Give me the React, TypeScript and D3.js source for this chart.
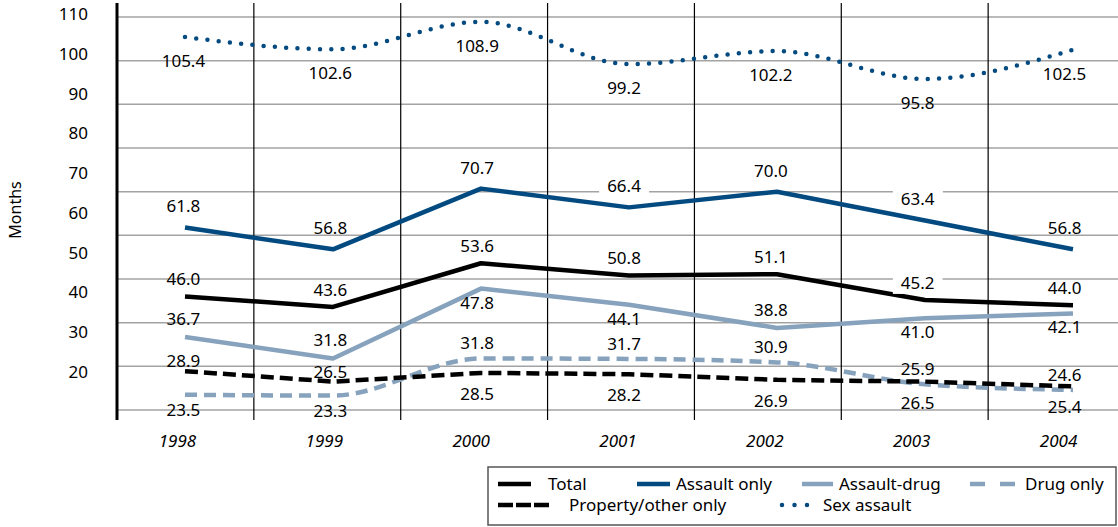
import React, { useEffect, useRef } from "react";
import * as d3 from "d3";

// values (months)
const years = ["1998", "1999", "2000", "2001", "2002", "2003", "2004"];
const totalValues = [46.0, 43.6, 53.6, 50.8, 51.1, 45.2, 44.0];
const assaultOnlyValues = [61.8, 56.8, 70.7, 66.4, 70.0, 63.4, 56.8];
const assaultDrugValues = [36.7, 31.8, 47.8, 44.1, 38.8, 41.0, 42.1];
const drugOnlyValues = [23.5, 23.3, 31.8, 31.7, 30.9, 25.9, 24.6];
const propertyValues = [28.9, 26.5, 28.5, 28.2, 26.9, 26.5, 25.4];
const sexAssaultValues = [105.4, 102.6, 108.9, 99.2, 102.2, 95.8, 102.5];
const yTicks = [20, 30, 40, 50, 60, 70, 80, 90, 100, 110];

// where each value label sits: a = above the line, b = below
const assaultDrugSides = ["a", "a", "b", "b", "a", "b", "b"];
const drugOnlySides = ["b", "b", "a", "a", "a", "a", "a"];
const propertySides = ["a", "a", "b", "b", "b", "b", "b"];

const W = 1118;
const H = 527;
const FONT = "'Noto Sans', 'DejaVu Sans', sans-serif";

type Series = {
  name: string;
  values: number[];
  color: string;
  dash: string | null;
  cap: string;
  smooth: boolean;
  sides: string[];
  up: number;
  down: number;
  boxed: string[];
};

const DARK = "#034a80";
const LIGHT = "#86a2bc";

const series: Series[] = [
  { name: "Sex assault", values: sexAssaultValues, color: DARK, dash: "0 11.3", cap: "round", smooth: true, sides: years.map(() => "b"), up: -18, down: 24, boxed: [] },
  { name: "Assault only", values: assaultOnlyValues, color: DARK, dash: null, cap: "butt", smooth: false, sides: years.map(() => "a"), up: -21, down: 16, boxed: ["2001", "2003"] },
  { name: "Total", values: totalValues, color: "#000", dash: null, cap: "butt", smooth: false, sides: years.map(() => "a"), up: -17, down: 16, boxed: ["2003"] },
  { name: "Assault-drug", values: assaultDrugValues, color: LIGHT, dash: null, cap: "butt", smooth: false, sides: assaultDrugSides, up: -18, down: 14, boxed: [] },
  { name: "Drug only", values: drugOnlyValues, color: LIGHT, dash: "12 7", cap: "butt", smooth: true, sides: drugOnlySides, up: -15, down: 15, boxed: [] },
  { name: "Property/other only", values: propertyValues, color: "#000", dash: "13 6", cap: "butt", smooth: false, sides: propertySides, up: -10, down: 21, boxed: [] },
];

// legend layout: swatch start/width, text start, row
const legendItems = [
  { s: "Total", x: 498, w: 33, tx: 548, row: 0 },
  { s: "Assault only", x: 637, w: 33, tx: 676, row: 0 },
  { s: "Assault-drug", x: 802, w: 31, tx: 839, row: 0 },
  { s: "Drug only", x: 970, w: 45, tx: 1025, row: 0 },
  { s: "Property/other only", x: 498, w: 51, tx: 569, row: 1 },
  { s: "Sex assault", x: 782, w: 28, tx: 823, row: 1 },
];

const App = () => {
  const ref = useRef<SVGSVGElement | null>(null);

  useEffect(() => {
    const svg = d3.select(ref.current);
    svg.selectAll("*").remove();

    // data positions
    const x = d3.scalePoint<string>().domain(years).range([185, 1073]);
    // grid columns and year labels
    const xBand = d3.scaleBand<string>().domain(years).range([107, 1135]);
    const y = d3.scaleLinear().domain([20, 110]).range([410, 17]);
    // the printed tick labels sit on a tighter spacing than the gridlines
    const yLabel = d3.scaleLinear().domain([20, 110]).range([372, 14]);

    const left = 117;
    const top = 3;
    const bottom = 420;

    // horizontal gridlines
    svg
      .append("g")
      .selectAll("line")
      .data(yTicks)
      .enter()
      .append("line")
      .attr("x1", left)
      .attr("x2", W)
      .attr("y1", (d) => y(d))
      .attr("y2", (d) => y(d))
      .attr("stroke", "#a3a3a3")
      .attr("stroke-width", 1.5);

    // vertical separators
    svg
      .append("g")
      .selectAll("line")
      .data(years.slice(1))
      .enter()
      .append("line")
      .attr("x1", (d) => xBand(d)!)
      .attr("x2", (d) => xBand(d)!)
      .attr("y1", top)
      .attr("y2", bottom)
      .attr("stroke", "#000")
      .attr("stroke-width", 1.2);

    // y axis
    svg
      .append("line")
      .attr("x1", left)
      .attr("x2", left)
      .attr("y1", top)
      .attr("y2", bottom)
      .attr("stroke", "#000")
      .attr("stroke-width", 3);

    svg
      .append("g")
      .selectAll("text")
      .data(yTicks)
      .enter()
      .append("text")
      .attr("x", 88)
      .attr("y", (d) => yLabel(d))
      .attr("dy", "0.35em")
      .attr("text-anchor", "end")
      .attr("font-family", FONT)
      .attr("font-size", 17)
      .text((d) => d);

    svg
      .append("text")
      .attr("transform", "translate(21,210) rotate(-90)")
      .attr("text-anchor", "middle")
      .attr("font-family", FONT)
      .attr("font-size", 16)
      .text("Months");

    // year labels
    svg
      .append("g")
      .selectAll("text")
      .data(years)
      .enter()
      .append("text")
      .attr("x", (d) => xBand(d)! + xBand.bandwidth() / 2 - 3)
      .attr("y", 441)
      .attr("dy", "0.35em")
      .attr("text-anchor", "middle")
      .attr("font-family", FONT)
      .attr("font-style", "italic")
      .attr("font-size", 17)
      .text((d) => d);

    // lines
    series.forEach((s) => {
      const line = d3
        .line<number>()
        .x((d, i) => x(years[i])!)
        .y((d) => y(d))
        .curve(s.smooth ? d3.curveMonotoneX : d3.curveLinear);
      const path = svg
        .append("path")
        .datum(s.values)
        .attr("d", line)
        .attr("fill", "none")
        .attr("stroke", s.color)
        .attr("stroke-width", 4.5)
        .attr("stroke-linecap", s.cap)
        .attr("stroke-linejoin", "round");
      if (s.dash) path.attr("stroke-dasharray", s.dash);
    });

    // value labels
    const labels = svg.append("g");
    series.forEach((s) => {
      s.values.forEach((v, i) => {
        const yr = years[i];
        const cx = xBand(yr)! + xBand.bandwidth() / 2 + 3;
        const cy = y(v) + (s.sides[i] === "a" ? s.up : s.down);
        const g = labels.append("g");
        const t = g
          .append("text")
          .attr("x", cx)
          .attr("y", cy)
          .attr("dy", "0.35em")
          .attr("text-anchor", "middle")
          .attr("font-family", FONT)
          .attr("font-size", 17)
          .text(v.toFixed(1));
        if (s.boxed.includes(yr)) {
          const b = (t.node() as SVGTextElement).getBBox();
          g.insert("rect", "text")
            .attr("x", b.x - 8)
            .attr("y", b.y + 2)
            .attr("width", b.width + 16)
            .attr("height", b.height - 2)
            .attr("fill", "#fff");
        }
      });
    });

    // legend
    const legend = svg.append("g");
    legend
      .append("rect")
      .attr("x", 488)
      .attr("y", 467)
      .attr("width", 628)
      .attr("height", 58)
      .attr("fill", "#fff")
      .attr("stroke", "#555")
      .attr("stroke-width", 1.5);

    legendItems.forEach((it) => {
      const s = series.find((d) => d.name === it.s)!;
      const ly = 484 + it.row * 21;
      const ln = legend
        .append("line")
        .attr("x1", it.x)
        .attr("x2", it.x + it.w)
        .attr("y1", ly)
        .attr("y2", ly)
        .attr("stroke", s.color)
        .attr("stroke-width", 4.5)
        .attr("stroke-linecap", s.cap);
      if (s.name === "Sex assault") ln.attr("stroke-dasharray", "0 12.5");
      else if (s.name === "Drug only") ln.attr("stroke-dasharray", "15 15");
      else if (s.name === "Property/other only") ln.attr("stroke-dasharray", "15 3");
      legend
        .append("text")
        .attr("x", it.tx)
        .attr("y", ly)
        .attr("dy", "0.35em")
        .attr("font-family", FONT)
        .attr("font-size", 17)
        .text(it.s);
    });
  }, []);

  return (
    <svg
      ref={ref}
      width={W}
      height={H}
      style={{ position: "absolute", left: 0, top: 0, background: "#fff" }}
    />
  );
};

export default App;
